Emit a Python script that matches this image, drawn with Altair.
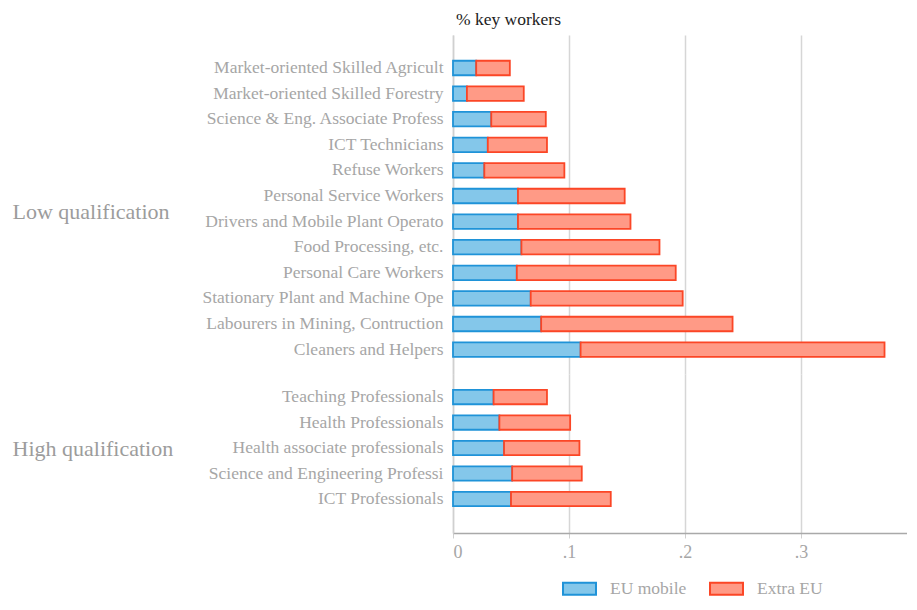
import altair as alt
import pandas as pd

FONT = "Liberation Serif"

types = ["EU mobile", "Extra EU"]
fills = ["#84c7ea", "#ff9a86"]
strokes = ["#1f93d8", "#fb4626"]

low_occ = [
    "Market-oriented Skilled Agricult",
    "Market-oriented Skilled Forestry",
    "Science & Eng. Associate Profess",
    "ICT Technicians",
    "Refuse Workers",
    "Personal Service Workers",
    "Drivers and Mobile Plant Operato",
    "Food Processing, etc.",
    "Personal Care Workers",
    "Stationary Plant and Machine Ope",
    "Labourers in Mining, Contruction",
    "Cleaners and Helpers",
]
low_eu = [0.020, 0.012, 0.033, 0.030, 0.027, 0.056, 0.056, 0.059, 0.055, 0.067, 0.076, 0.110]
low_extra = [0.029, 0.049, 0.047, 0.051, 0.069, 0.092, 0.097, 0.119, 0.137, 0.131, 0.165, 0.262]

high_occ = [
    "Teaching Professionals",
    "Health Professionals",
    "Health associate professionals",
    "Science and Engineering Professi",
    "ICT Professionals",
]
high_eu = [0.035, 0.040, 0.044, 0.051, 0.050]
high_extra = [0.046, 0.061, 0.065, 0.060, 0.086]

x_ticks = [0, 0.1, 0.2, 0.3]


def long_df(occs, eu, extra):
    rows = []
    for o, a, b in zip(occs, eu, extra):
        rows.append({"occupation": o, "type": types[0], "rank": 0, "value": a})
        rows.append({"occupation": o, "type": types[1], "rank": 1, "value": b})
    return pd.DataFrame(rows)


legend = alt.Legend(
    orient="none", legendX=117, legendY=544, direction="horizontal", title=None,
    symbolType="M-2,-0.73H2V0.73H-2Z", symbolSize=272, symbolStrokeWidth=2,
    labelFont=FONT, labelFontSize=17.5, labelColor="#a6a6a6", labelOffset=21,
    columnPadding=19,
)


def panel(df, occs, group_title, height, pad_outer, align, title_y, show_x):
    x_axis = alt.Axis(
        values=x_ticks, grid=True, gridColor="#d6d6d6", gridWidth=1.5,
        labels=show_x, ticks=show_x, domain=show_x, title=None,
        labelExpr="datum.value == 0 ? '0' : replace(format(datum.value, '.1f'), '0.', '.')",
        labelFont=FONT, labelFontSize=18, labelColor="#a6a6a6", labelPadding=5,
        tickSize=5, tickColor="#d0d0d0", domainColor="#a9a9a9", domainWidth=1.5,
    )
    y_axis = alt.Axis(
        title=group_title, titleAngle=0, titleAlign="left", titleBaseline="middle",
        titleX=-441, titleY=title_y, titleFont=FONT, titleFontSize=22,
        titleFontWeight="normal", titleColor="#9c9c9c",
        labelFont=FONT, labelFontSize=17.5, labelColor="#a6a6a6", labelPadding=10,
        labelLimit=0, ticks=False, domainColor="#d0d0d0", domainWidth=1.5,
    )
    return alt.Chart(df).mark_bar(strokeWidth=1.8).encode(
        x=alt.X("value:Q", stack="zero", scale=alt.Scale(domain=[0, 0.4], nice=False), axis=x_axis),
        y=alt.Y("occupation:N", sort=occs,
                scale=alt.Scale(paddingInner=0.434, paddingOuter=pad_outer, align=align),
                axis=y_axis),
        color=alt.Color("type:N", scale=alt.Scale(domain=types, range=fills), legend=legend),
        stroke=alt.Stroke("type:N", scale=alt.Scale(domain=types, range=strokes), legend=legend),
        order=alt.Order("rank:Q"),
    ).properties(width=464, height=height)


top = panel(long_df(low_occ, low_eu, low_extra), low_occ, "Low qualification",
            339, 0.838, 0.600, 176, False).properties(
    title=alt.TitleParams("% key workers", anchor="start", frame="group", font=FONT,
                          fontSize=17.5, color="#222222", fontWeight="normal", offset=6.5, dx=3)
)
bottom = panel(long_df(high_occ, high_eu, high_extra), high_occ, "High qualification",
               159, 0.835, 0.371, 74, True)

chart = alt.vconcat(top, bottom, spacing=0).properties(
    padding={"left": 4, "top": 3, "right": -10, "bottom": -2}
).configure_view(stroke=None)

chart.save("out.html", embed_options={"renderer": "svg", "actions": False})
